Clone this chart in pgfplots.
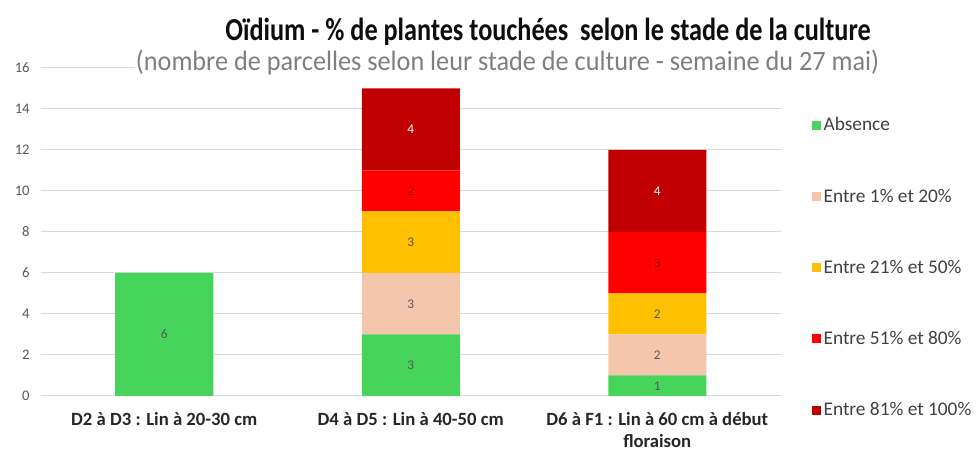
\documentclass[border=0pt]{standalone}
\usepackage{fontspec}
\setmainfont{Carlito}
\usepackage{graphicx}
\usepackage{pgfplots}
\pgfplotsset{compat=1.18}
\definecolor{cgreen}{HTML}{47D45A}
\definecolor{cpeach}{HTML}{F4C7AC}
\definecolor{cgold}{HTML}{FFC000}
\definecolor{cred}{HTML}{FF0000}
\definecolor{cdred}{HTML}{C00000}
\definecolor{gridc}{HTML}{D9D9D9}
\definecolor{tickc}{HTML}{595959}
\definecolor{labc}{HTML}{595959}
\definecolor{legc}{HTML}{404040}
\definecolor{subc}{HTML}{7F7F7F}
\begin{document}
\begin{tikzpicture}
\useasboundingbox (-30.75pt,-42.75pt) rectangle (702.75pt,297pt);
\begin{axis}[
  at={(0,0)}, anchor=south west,
  x=184.875pt, y=15.375pt,
  xmin=-0.5, xmax=2.5, ymin=0, ymax=16,
  enlargelimits=false,
  ybar stacked, bar width=73.5pt,
  xtick={0,1,2},
  xticklabels={D2 à D3 : Lin à 20-30 cm, D4 à D5 : Lin à 40-50 cm, {D6 à F1 : Lin à 60 cm à début\\floraison}},
  xticklabel style={align=center, font=\bfseries\fontsize{14}{17}\selectfont, text=black!85, yshift=-8.5pt},
  ytick={0,2,...,16},
  yticklabel style={font=\fontsize{11}{12}\selectfont, text=tickc, xshift=-5pt},
  /pgf/number format/assume math mode=true,
  ymajorgrids, grid style={draw=gridc, line width=0.75pt},
  axis line style={draw=none}, major tick length=0pt,
  visualization depends on=rawy \as \rawy,
  nodes near coords={\pgfmathtruncatemacro\v{\rawy}\ifnum\v>0 \v\fi},
  every node near coord/.append style={anchor=center, font=\fontsize{10}{11}\selectfont, text=labc},
  legend style={at={(1.037,0.866)}, anchor=north west, draw=none, fill=none, row sep=38pt, font=\fontsize{14.5}{17}\selectfont, text=legc},
  legend cell align=left,
  legend image code/.code={\fill[#1] (0pt,-3.4pt) rectangle (6.6pt,3.4pt);},
]
\addplot[fill=cgreen, draw=none] coordinates {(0,6) (1,3) (2,1)};
\addlegendentry{Absence}
\addplot[fill=cpeach, draw=none] coordinates {(0,0) (1,3) (2,2)};
\addlegendentry{Entre 1\% et 20\%}
\addplot[fill=cgold, draw=none] coordinates {(0,0) (1,3) (2,2)};
\addlegendentry{Entre 21\% et 50\%}
\addplot[fill=cred, draw=none, every node near coord/.append style={text=cdred!80!black}] coordinates {(0,0) (1,2) (2,3)};
\addlegendentry{Entre 51\% et 80\%}
\addplot[fill=cdred, draw=none, every node near coord/.append style={text=white}] coordinates {(0,0) (1,4) (2,4)};
\addlegendentry{Entre 81\% et 100\%}
\end{axis}
\node[font=\bfseries\fontsize{24}{28}\selectfont, text=black!95] at (380.25pt,273pt) {\scalebox{0.82}[1]{Oïdium - \% de plantes touchées~ selon le stade de la culture}};
\node[fill=white, inner sep=1pt, font=\fontsize{21}{24}\selectfont, text=subc] at (349.9pt,250pt) {\scalebox{0.937}[1]{(nombre de parcelles selon leur stade de culture - semaine du 27 mai)}};
\end{tikzpicture}
\end{document}
